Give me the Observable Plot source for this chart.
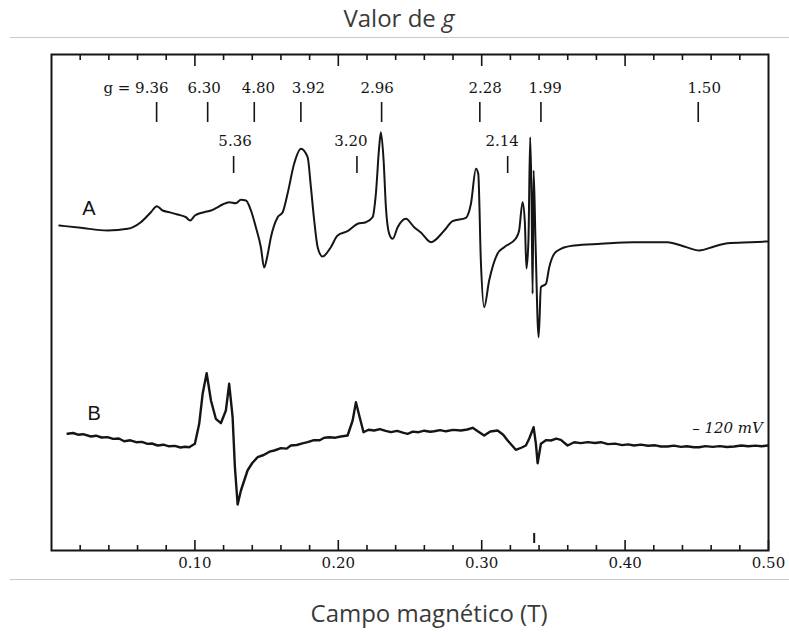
<!DOCTYPE html>
<html>
<head>
<meta charset="utf-8">
<script src="https://cdn.jsdelivr.net/npm/d3@7"></script>
<script src="https://cdn.jsdelivr.net/npm/@observablehq/plot@0.6"></script>
<style>
  html, body { margin: 0; padding: 0; background: #fff; }
  #wrap { position: relative; width: 789px; height: 632px; overflow: hidden; }
  .ttl { position: absolute; font-family: "Open Sans", "Noto Sans", sans-serif; color: #3a3a3a; font-size: 24px; text-align: center; white-space: nowrap; }
  .rule { position: absolute; left: 10px; width: 779px; height: 0; border-top: 1.5px solid #c9c9c9; }
  #chart { position: absolute; left: 0; top: 38px; }
</style>
</head>
<body>
<div id="wrap">
  <div class="ttl" style="left:0; width:798px; top:1px;">Valor de <i>g</i></div>
  <div class="rule" style="top:37px;"></div>
  <div id="chart"></div>
  <div class="rule" style="top:579px;"></div>
  <div class="ttl" style="left:0; width:858px; top:596px;">Campo magnético (T)</div>
</div>
<script>
// ---- Spectrum A (magnetic field in T, signal in arbitrary units) ----
const specA_field = [0.0054,0.0205,0.0391,0.0531,0.0623,0.0693,0.0735,0.0775,0.0821,0.0879,0.0937,0.0967,0.1000,0.1065,0.1112,0.1146,0.1193,0.1239,0.1286,0.1321,0.1356,0.1391,0.1425,0.1460,0.1483,0.1506,0.1530,0.1577,0.1612,0.1646,0.1692,0.1739,0.1786,0.1809,0.1832,0.1856,0.1890,0.1948,0.1995,0.2065,0.2135,0.2192,0.2239,0.2262,0.2285,0.2297,0.2316,0.2332,0.2355,0.2379,0.2414,0.2471,0.2529,0.2576,0.2646,0.2739,0.2797,0.2890,0.2925,0.2960,0.2976,0.2994,0.3017,0.3052,0.3111,0.3157,0.3238,0.3261,0.3285,0.3301,0.3312,0.3326,0.3338,0.3348,0.3355,0.3362,0.3375,0.3397,0.3413,0.3448,0.3471,0.3506,0.3552,0.3645,0.3831,0.4061,0.4296,0.4412,0.4517,0.4621,0.4715,0.4877,0.4996];
const specA_signal = [325,322.7,320,321.7,328.3,338.3,344.3,340,338.3,336,333.3,330,335,338.3,340,342.3,346,348.3,347.3,350.7,350,340,323.3,303.3,283,295,313.3,333.3,338.3,356.7,386.7,401.7,393.3,363.3,330,303.3,294,303.3,315,319.3,326.7,328.3,333.3,356.7,403.3,418.3,390,343.3,316.7,311.7,323.3,331.7,323.3,318,308.3,320,329.3,332.7,346.7,381.7,376.7,290,243.3,270,297,303.3,312,320,348.3,328,282,310,413.3,350,256.7,380,310,213.3,263.3,266.7,283.3,296.7,301.7,305,306.7,308.3,308.3,304,300,304,307.3,308.3,309];

// ---- Spectrum B ----
const specB_field = [0.0112,0.0150,0.0185,0.0220,0.0275,0.0310,0.0350,0.0390,0.0430,0.0470,0.0507,0.0550,0.0590,0.0630,0.0670,0.0700,0.0740,0.0780,0.0820,0.0860,0.0900,0.0930,0.0960,0.1000,0.1030,0.1054,0.1082,0.1112,0.1146,0.1181,0.1216,0.1239,0.1263,0.1279,0.1298,0.1321,0.1367,0.1400,0.1437,0.1480,0.1520,0.1553,0.1600,0.1640,0.1669,0.1710,0.1750,0.1786,0.1830,0.1870,0.1902,0.1940,0.1980,0.2018,0.2065,0.2100,0.2123,0.2146,0.2176,0.2210,0.2250,0.2290,0.2330,0.2367,0.2410,0.2450,0.2483,0.2520,0.2560,0.2600,0.2640,0.2669,0.2710,0.2750,0.2800,0.2855,0.2900,0.2937,0.2970,0.3017,0.3060,0.3111,0.3150,0.3181,0.3238,0.3280,0.3308,0.3331,0.3362,0.3378,0.3390,0.3413,0.3450,0.3483,0.3520,0.3552,0.3599,0.3645,0.3690,0.3740,0.3790,0.3831,0.3880,0.3930,0.3980,0.4020,0.4063,0.4110,0.4160,0.4210,0.4250,0.4296,0.4340,0.4390,0.4430,0.4480,0.4517,0.4560,0.4610,0.4660,0.4710,0.4761,0.4810,0.4860,0.4910,0.4950,0.4994];
const specB_signal = [116.7,117.5,115.8,116.3,114.0,114.8,113.0,113.4,111.6,112.0,109.3,110.2,108.3,108.6,106.6,107.0,105.0,105.8,104.2,104.6,103.0,103.7,103.3,106.7,126.7,156.7,177.3,150,131.7,127.3,140,166.7,133.3,83.3,46,60,80,87.5,93.3,95.5,98.8,100,102.4,101.9,105,105.5,107.2,108.3,110.3,110.2,112.7,113.2,112.8,114,115,130,148.3,135,118.3,120.8,120,121.4,119.6,118.3,119.6,117.8,116.7,118.9,118.3,119.8,118.7,119.3,120.4,119.2,120.6,120,121.0,122.7,119.5,115,119.0,120,115.8,110,100.7,103.0,105,111.7,123.3,106.7,87.3,106.7,110.4,110,111.8,110.7,105,108.3,107.4,108.4,107.5,108.3,106.4,106.9,105.4,106.1,105,105.9,104.8,105.2,104.0,104,104.9,103.6,104.2,103.2,103.3,104.4,103.6,104.4,103.5,104,105.0,104.2,104.9,104.2,105];

// ---- g-value markers ----
const gUpper_label = ["g = 9.36","6.30","4.80","3.92","2.96","2.28","1.99","1.50"];
const gUpper_labelField = [0.0589,0.1065,0.1443,0.1791,0.2271,0.3024,0.3442,0.4552];
const gUpper_tickField = [0.0733,0.1089,0.1414,0.1739,0.2302,0.2987,0.3413,0.4510];
const gLower_label = ["5.36","3.20","2.14"];
const gLower_labelField = [0.1280,0.2088,0.3143];
const gLower_tickField = [0.1270,0.2130,0.3181];

// ---- axis ticks ----
const xMajorTicks = [0.10,0.20,0.30,0.40,0.50];
const xMinorTicks = [0.02,0.04,0.06,0.08,0.12,0.14,0.16,0.18,0.22,0.24,0.26,0.28,0.32,0.34,0.36,0.38,0.42,0.44,0.46,0.48];
const topMajorTicks = [0.10,0.20,0.30,0.40];

// ---- trace labels ----
const traceNames = ["A","B"];
const traceNameField = [0.0261,0.0298];
const traceNameSignal = [342,137];
const refLabel = "– 120 mV";
const dpphMarkField = 0.3366;

const A = specA_field.map((f,i)=>({f, s: specA_signal[i]}));
const B = specB_field.map((f,i)=>({f, s: specB_signal[i]}));
const up = gUpper_label.map((t,i)=>({t, lf: gUpper_labelField[i], tf: gUpper_tickField[i]}));
const lo = gLower_label.map((t,i)=>({t, lf: gLower_labelField[i], tf: gLower_tickField[i]}));
const names = traceNames.map((t,i)=>({t, f: traceNameField[i], s: traceNameSignal[i]}));

const serif = "'DejaVu Serif','Liberation Serif',serif";
const ink = "#151515";
const fmt = d3.format(".2f");

const chart = Plot.plot({
  width: 789,
  height: 541,
  marginLeft: 51,
  marginRight: 21,
  marginTop: 16,
  marginBottom: 29,
  x: {domain: [0, 0.5], axis: null},
  y: {domain: [0, 496], axis: null},
  style: {background: "transparent"},
  marks: [
    // x tick labels
    Plot.text(xMajorTicks, {x: d => d, y: 0, dy: 13, text: d => fmt(d), fontSize: 15, fontFamily: serif, fill: ink}),
    // bottom ticks (pointing inward)
    Plot.ruleX(xMinorTicks, {y1: 0, y2: 5, stroke: ink, strokeWidth: 1.6}),
    Plot.ruleX(xMajorTicks, {y1: 0, y2: 10, stroke: ink, strokeWidth: 1.6}),
    // top ticks
    Plot.ruleX(xMinorTicks, {y1: 496, y2: 490, stroke: ink, strokeWidth: 1.6}),
    Plot.ruleX(topMajorTicks, {y1: 496, y2: 484, stroke: ink, strokeWidth: 1.6}),
    Plot.ruleX([dpphMarkField], {y1: 7, y2: 17, stroke: ink, strokeWidth: 2}),
    Plot.frame({stroke: ink, strokeWidth: 2}),
    // g markers
    Plot.text(up, {x: "lf", y: 462, text: "t", fontSize: 15, fontFamily: serif, fill: ink}),
    Plot.ruleX(up, {x: "tf", y1: 428, y2: 448, stroke: ink, strokeWidth: 1.6}),
    Plot.text(lo, {x: "lf", y: 409, text: "t", fontSize: 15, fontFamily: serif, fill: ink}),
    Plot.ruleX(lo, {x: "tf", y1: 377, y2: 394, stroke: ink, strokeWidth: 1.6}),
    // spectra
    Plot.line(A, {x: "f", y: "s", stroke: ink, strokeWidth: 2, curve: "monotone-x"}),
    Plot.line(B, {x: "f", y: "s", stroke: ink, strokeWidth: 2.4, curve: "linear"}),
    Plot.text(names, {x: "f", y: "s", text: "t", fontSize: 20, fontFamily: "'Liberation Sans',Arial,sans-serif", fill: ink}),
    Plot.text([refLabel], {x: 0.4961, y: 122, text: d => d, textAnchor: "end", fontSize: 15, fontStyle: "italic", fontFamily: serif, fill: ink})
  ]
});
document.getElementById("chart").appendChild(chart);
</script>
</body>
</html>
